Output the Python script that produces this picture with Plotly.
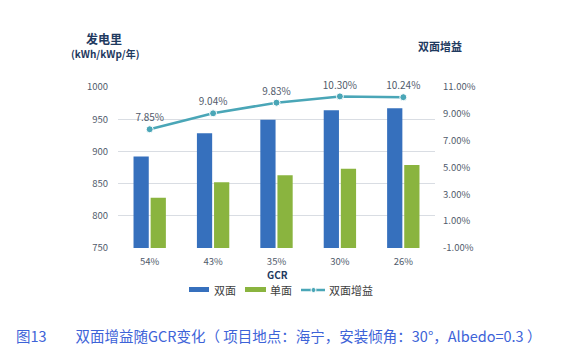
import plotly.graph_objects as go

categories = ["54%", "43%", "35%", "30%", "26%"]
bifacial = [892, 928, 949, 964, 967]
monofacial = [828, 852, 863, 873, 879]
gain = [7.85, 9.04, 9.83, 10.30, 10.24]
gain_labels = ["7.85%", "9.04%", "9.83%", "10.30%", "10.24%"]
left_ticks = [750, 800, 850, 900, 950, 1000]
right_ticks = [-1, 1, 3, 5, 7, 9, 11]
right_tick_labels = ["-1.00%", "1.00%", "3.00%", "5.00%", "7.00%", "9.00%", "11.00%"]

FONT = "Noto Sans CJK SC"
TICK = "#515b6b"
TITLE = "#1f3a5f"
BLUE = "#3670bd"
GREEN = "#8ab43f"
TEAL = "#4aa6b7"

L, R, T, B = 118, 435, 87, 248
W, H = 584, 359
PW, PH = R - L, B - T


def px(x):
    return (x - L) / PW


def py(y):
    return (B - y) / PH


fig = go.Figure()
fig.add_trace(go.Bar(x=categories, y=bifacial, name="双面",
                     marker=dict(color=BLUE, line=dict(width=0))))
fig.add_trace(go.Bar(x=categories, y=monofacial, name="单面",
                     marker=dict(color=GREEN, line=dict(width=0))))
fig.add_trace(go.Scatter(
    x=categories, y=gain, name="双面增益", yaxis="y2",
    mode="lines+markers+text", text=gain_labels, textposition="top center",
    textfont=dict(size=10, color=TICK, family=FONT), cliponaxis=False,
    line=dict(color=TEAL, width=2.5),
    marker=dict(size=7, color=TEAL, line=dict(color="white", width=1)),
))

fig.update_layout(
    width=W, height=H,
    margin=dict(l=L, r=W - R, t=T, b=H - B, autoexpand=False),
    paper_bgcolor="white", plot_bgcolor="white",
    font=dict(family=FONT, size=10, color=TICK),
    barmode="group", bargap=0.46, bargroupgap=0.11,
    showlegend=False,
    xaxis=dict(showgrid=False, showline=False, ticks="", automargin=False,
               tickfont=dict(size=9.5, color=TICK), ticklabelstandoff=6),
    yaxis=dict(range=[750, 1000], tickvals=left_ticks, showgrid=True, gridcolor="#d9dde3",
               gridwidth=1, zeroline=False, showline=False, ticks="", automargin=False,
               tickfont=dict(size=9.5, color=TICK), ticklabelstandoff=9),
    yaxis2=dict(range=[-1, 11], tickvals=right_ticks, ticktext=right_tick_labels,
                overlaying="y", side="right", showgrid=False, zeroline=False, automargin=False,
                showline=False, ticks="", tickfont=dict(size=9.5, color=TICK),
                ticklabelstandoff=7),
)


def ann(text, x, y, size, color, xanchor="center"):
    fig.add_annotation(text=text, xref="paper", yref="paper", x=px(x), y=py(y),
                       xanchor=xanchor, yanchor="middle", showarrow=False,
                       font=dict(size=size, color=color, family=FONT))


ann("<b>发电里</b>", 104, 38, 12, TITLE)
ann("<b>(kWh/kWp/年)</b>", 105, 54, 10, TITLE)
ann("<b>双面增益</b>", 440, 46, 11, TITLE)
ann("<b>GCR</b>", 277, 274, 10, TITLE)

# legend (drawn)
fig.add_shape(type="rect", xref="paper", yref="paper", x0=px(189), x1=px(209),
              y0=py(292), y1=py(287), fillcolor=BLUE, line=dict(width=0))
ann("双面", 212, 290, 11, "#404040", "left")
fig.add_shape(type="rect", xref="paper", yref="paper", x0=px(245), x1=px(266),
              y0=py(292), y1=py(287), fillcolor=GREEN, line=dict(width=0))
ann("单面", 268, 290, 11, "#404040", "left")
fig.add_shape(type="line", xref="paper", yref="paper", x0=px(301), x1=px(325),
              y0=py(290), y1=py(290), line=dict(color=TEAL, width=2.5))
fig.add_shape(type="circle", xref="paper", yref="paper", x0=px(311), x1=px(316),
              y0=py(292.5), y1=py(287.5), fillcolor=TEAL, line=dict(color="white", width=1))
ann("双面增益", 327, 290, 11, "#404040", "left")

ann("图13　　双面增益随GCR变化（ 项目地点：海宁，安装倾角：30°，Albedo=0.3 ）",
    14, 335, 14.5, "#3d63d8", "left")

fig.write_html("out.html", config={"displayModeBar": False},
               post_script="document.body.style.margin='0';document.body.style.overflow='hidden';")
